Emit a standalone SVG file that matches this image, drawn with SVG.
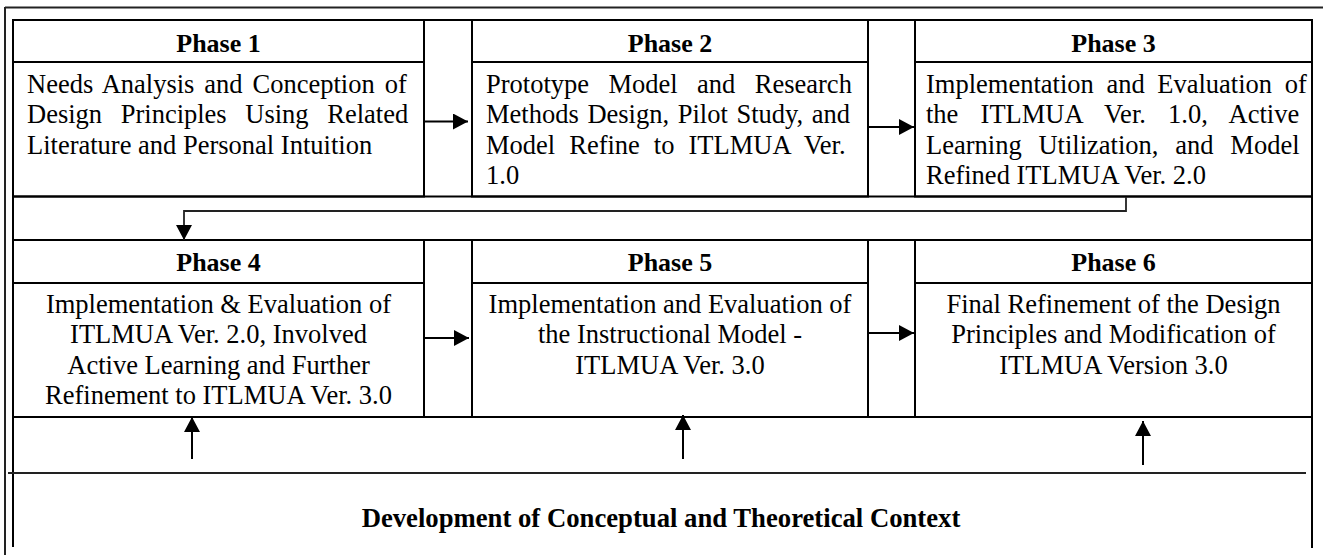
<svg xmlns="http://www.w3.org/2000/svg" width="1323" height="555" viewBox="0 0 1323 555">
<style>
.b{fill:none;stroke:#000;stroke-width:2}
.f{fill:none;stroke:#222;stroke-width:2}
.h{font-family:"Liberation Serif","Times New Roman",serif;font-weight:bold;font-size:26px;fill:#000;text-anchor:middle}
.t{font-family:"Liberation Serif","Times New Roman",serif;font-size:26.5px;fill:#000}
.c{text-anchor:middle}
.a{fill:none;stroke:#000;stroke-width:2;marker-end:url(#ah)}
.k{fill:none;stroke:#222;stroke-width:1.8;marker-end:url(#ah)}
</style>
<defs>
<marker id="ah" markerUnits="userSpaceOnUse" markerWidth="16" markerHeight="16" refX="15" refY="8" orient="auto">
<path d="M0,0 L15,8 L0,16 z" fill="#000"/>
</marker>
</defs>
<rect width="1323" height="555" fill="#fff"/>
<g id="frame">
<line class="f" x1="5" y1="7.5" x2="1323" y2="7.5"/>
<line class="f" x1="5" y1="7" x2="5" y2="555"/>
<line class="b" x1="13" y1="20" x2="1312" y2="20"/>
<line class="b" x1="13" y1="19" x2="13" y2="547"/>
<line class="b" x1="1312" y1="19" x2="1312" y2="548"/>
<line class="b" x1="13" y1="196.5" x2="1312" y2="196.5"/>
<line class="b" x1="13" y1="240" x2="1312" y2="240"/>
<line class="b" x1="13" y1="417" x2="1312" y2="417"/>
<line class="f" x1="8" y1="473" x2="1306" y2="473"/>
</g>
<g id="phase1">
<rect class="b" x="13" y="20" width="411" height="176.5"/>
<line class="b" x1="13" y1="62" x2="424" y2="62"/>
<text class="h" x="218.5" y="52">Phase 1</text>
<text class="t" x="27" y="92.5" word-spacing="3.3">Needs Analysis and Conception of</text>
<text class="t" x="27" y="123" word-spacing="12">Design Principles Using Related</text>
<text class="t" x="27" y="153.5">Literature and Personal Intuition</text>
</g>
<g id="phase2">
<rect class="b" x="472" y="20" width="396" height="176.5"/>
<line class="b" x1="472" y1="62" x2="868" y2="62"/>
<text class="h" x="670" y="52">Phase 2</text>
<text class="t" x="486" y="92.5" word-spacing="12.8">Prototype Model and Research</text>
<text class="t" x="486" y="123" word-spacing="2">Methods Design, Pilot Study, and</text>
<text class="t" x="486" y="153.5" word-spacing="7.4">Model Refine to ITLMUA Ver.</text>
<text class="t" x="486" y="183.5">1.0</text>
</g>
<g id="phase3">
<rect class="b" x="915" y="20" width="397" height="176.5"/>
<line class="b" x1="915" y1="62" x2="1312" y2="62"/>
<text class="h" x="1113.5" y="52">Phase 3</text>
<text class="t" x="926" y="92.5" word-spacing="6">Implementation and Evaluation of</text>
<text class="t" x="926" y="123" word-spacing="15.6">the ITLMUA Ver. 1.0, Active</text>
<text class="t" x="926" y="153.5" word-spacing="10.2">Learning Utilization, and Model</text>
<text class="t" x="926" y="183.5">Refined ITLMUA Ver. 2.0</text>
</g>
<g id="phase4">
<rect class="b" x="13" y="240" width="411" height="177"/>
<line class="b" x1="13" y1="283" x2="424" y2="283"/>
<text class="h" x="218.5" y="271">Phase 4</text>
<text class="t c" x="218.5" y="313">Implementation &amp; Evaluation of</text>
<text class="t c" x="218.5" y="343">ITLMUA Ver. 2.0, Involved</text>
<text class="t c" x="218.5" y="373.5">Active Learning and Further</text>
<text class="t c" x="218.5" y="404">Refinement to ITLMUA Ver. 3.0</text>
</g>
<g id="phase5">
<rect class="b" x="472" y="240" width="396" height="177"/>
<line class="b" x1="472" y1="283" x2="868" y2="283"/>
<text class="h" x="670" y="271">Phase 5</text>
<text class="t c" x="670" y="313">Implementation and Evaluation of</text>
<text class="t c" x="670" y="343">the Instructional Model -</text>
<text class="t c" x="670" y="373.5">ITLMUA Ver. 3.0</text>
</g>
<g id="phase6">
<rect class="b" x="915" y="240" width="397" height="177"/>
<line class="b" x1="915" y1="283" x2="1312" y2="283"/>
<text class="h" x="1113.5" y="271">Phase 6</text>
<text class="t c" x="1113.5" y="313">Final Refinement of the Design</text>
<text class="t c" x="1113.5" y="343">Principles and Modification of</text>
<text class="t c" x="1113.5" y="373.5">ITLMUA Version 3.0</text>
</g>
<g id="context">
<text class="h" x="661" y="527" style="font-size:26.7px">Development of Conceptual and Theoretical Context</text>
</g>
<g id="connectors">
<line class="a" x1="425" y1="121.5" x2="468" y2="121.5"/>
<line class="a" x1="869" y1="127" x2="914" y2="127"/>
<path class="k" d="M1126,197 V211 H184 V240"/>
<line class="a" x1="425" y1="338" x2="469" y2="338"/>
<line class="a" x1="869" y1="333" x2="914" y2="333"/>
<line class="a" x1="192" y1="459" x2="192" y2="417"/>
<line class="a" x1="683" y1="459" x2="683" y2="415"/>
<line class="a" x1="1143" y1="465" x2="1143" y2="421"/>
</g>
</svg>
